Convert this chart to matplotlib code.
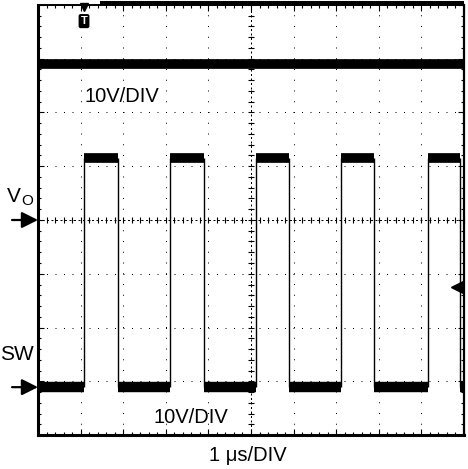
import numpy as np
import matplotlib.pyplot as plt
from matplotlib.ticker import MultipleLocator, NullFormatter

plt.rcParams['font.family'] = ['Liberation Sans', 'DejaVu Sans']

# scope settings (10 V/div, 1 us/div, 10 x 8 divisions)
volts_per_div = 10.0
n_xdiv, n_ydiv = 10, 8

# channel ground levels (in divisions from bottom)
vo_offset = 4.0
sw_offset = 0.89

# output voltage (flat trace)
vo_level = 29.0  # V

# switch node square wave, edge times in us
t_rise = [1.08, 3.10, 5.12, 7.11, 9.15]
t_fall = [1.88, 3.90, 5.89, 7.89, 9.90]
sw_high = 42.6  # V
sw_low = 0.0    # V

# trigger
trig_time = t_rise[0]
trig_level = 18.6  # V on SW

fig = plt.figure(figsize=(4.68, 4.69), dpi=100)
ax = fig.add_axes([38 / 468, 34 / 469, 426 / 468, 430 / 469])
ax.set_xlim(0, n_xdiv)
ax.set_ylim(0, n_ydiv)


def to_div(v, off):
    return float(v) / volts_per_div + off


# dotted graticule
ax.xaxis.set_major_locator(MultipleLocator(1))
ax.yaxis.set_major_locator(MultipleLocator(1))
ax.xaxis.set_minor_locator(MultipleLocator(0.2))
ax.yaxis.set_minor_locator(MultipleLocator(0.2))
ax.grid(axis='x', which='major', color='black', lw=0.72, linestyle=(0, (1, 9.75)))
ax.grid(axis='y', which='major', color='black', lw=0.72, linestyle=(0, (1, 7.5)))
ax.tick_params(which='both', direction='in', top=True, right=True,
               labelbottom=False, labelleft=False, color='black')
ax.tick_params(which='major', length=4, width=0.8)
ax.tick_params(which='minor', length=2.5, width=0.8)
for side, w in [('left', 2.2), ('bottom', 2.2), ('right', 1.6), ('top', 1.4)]:
    ax.spines[side].set_linewidth(w)

# centre lines with cross ticks
cx = ax.secondary_xaxis(0.5)
cx.xaxis.set_major_locator(MultipleLocator(1))
cx.xaxis.set_minor_locator(MultipleLocator(0.2))
cx.xaxis.set_major_formatter(NullFormatter())
cx.tick_params(which='both', direction='inout', length=4, width=0.8)
cy = ax.secondary_yaxis(0.5)
cy.yaxis.set_major_locator(MultipleLocator(1))
cy.yaxis.set_minor_locator(MultipleLocator(0.2))
cy.yaxis.set_major_formatter(NullFormatter())
cy.tick_params(which='both', direction='inout', length=4, width=0.8)
for sec in (cx, cy):
    for sp in sec.spines.values():
        sp.set_linestyle((0, (1, 3.5)))
        sp.set_linewidth(0.72)

# VO trace
ax.axhline(to_div(vo_level, vo_offset), color='black', lw=7, solid_capstyle='butt')

# SW trace
lo = to_div(sw_low, sw_offset)
hi = to_div(sw_high, sw_offset)
low_starts = [0] + t_fall
low_ends = t_rise + [n_xdiv]
ax.hlines([lo] * len(low_starts), low_starts, low_ends, color='black', lw=7.5)
ax.hlines([hi] * len(t_rise), t_rise, t_fall, color='black', lw=7)
ax.vlines(t_rise, lo, hi, color='black', lw=1.0)
ax.vlines(t_fall, lo, hi, color='black', lw=1.0)

# trigger markers
ax.plot([trig_time], [n_ydiv - 0.04], marker='v', color='black', ms=6, clip_on=False)
ax.text(trig_time, n_ydiv - 0.3, 'T', color='white', fontsize=8, fontweight='bold',
        ha='center', va='center',
        bbox=dict(boxstyle='round,pad=0.12', fc='black', ec='black'))
ax.plot([9.84], [to_div(trig_level, sw_offset)], marker='<', color='black', ms=8)
ax.plot([0.145, 1.0], [1.0035, 1.0035], transform=ax.transAxes, color='black',
        lw=2.9, clip_on=False, solid_capstyle='butt')

# ground arrows
for off in (vo_offset, sw_offset):
    ax.annotate('', xy=(0, off), xytext=(-26, 0), textcoords='offset pixels',
                xycoords='data', annotation_clip=False,
                arrowprops=dict(arrowstyle='-|>,head_length=0.7,head_width=0.35',
                                color='black', lw=1.6, mutation_scale=14,
                                shrinkA=0, shrinkB=0))


def fx(px):
    return px / 468


def fy(py):
    return 1 - py / 469


fig.text(fx(7), fy(196), 'V', fontsize=15, ha='left', va='center')
fig.text(fx(21), fy(201), 'O', fontsize=11, ha='left', va='center')
fig.text(fx(0), fy(355), 'SW', fontsize=15, ha='left', va='center')
fig.text(fx(122), fy(96), '10V/DIV', fontsize=14.5, ha='center', va='center')
fig.text(fx(191), fy(417), '10V/DIV', fontsize=14.5, ha='center', va='center')
fig.text(fx(248), fy(455), '1 μs/DIV', fontsize=14.5, ha='center', va='center')

fig.savefig('out.png', dpi=100)
